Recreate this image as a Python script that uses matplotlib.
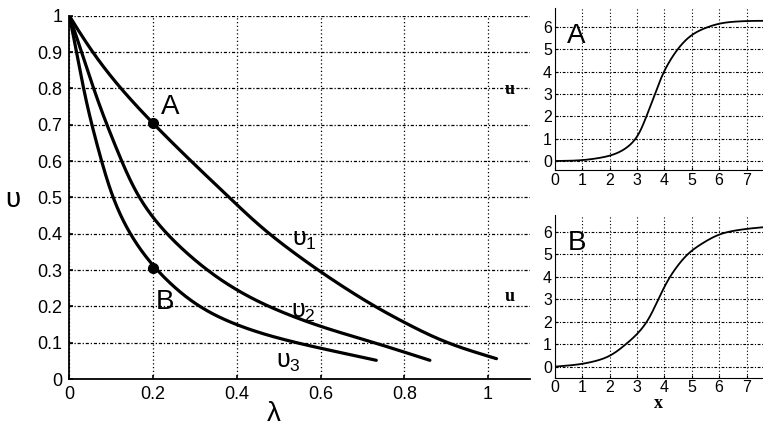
import matplotlib
matplotlib.use("Agg")
import matplotlib.pyplot as plt
import numpy as np

plt.rcParams['font.family'] = ['Liberation Sans', 'DejaVu Sans']
plt.rcParams['mathtext.fontset'] = 'custom'
plt.rcParams['mathtext.rm'] = 'Liberation Sans'

# ---- main panel data (lambda, upsilon) ----
lam1 = [0.0, 0.053, 0.121, 0.198, 0.29, 0.382, 0.463, 0.592, 0.726, 0.893, 1.02]
ups1 = [1.0, 0.9, 0.8, 0.705, 0.6, 0.5, 0.41, 0.3, 0.2, 0.1, 0.056]
lam2 = [0.0, 0.030, 0.057, 0.089, 0.125, 0.161, 0.228, 0.325, 0.39, 0.47, 0.6, 0.73, 0.861]
ups2 = [1.0, 0.9, 0.8, 0.7, 0.6, 0.5, 0.4, 0.3, 0.249, 0.2, 0.143, 0.1, 0.0515]
lam3 = [0.0, 0.018, 0.033, 0.053, 0.077, 0.101, 0.141, 0.2, 0.3, 0.384, 0.455, 0.55, 0.733]
ups3 = [1.0, 0.9, 0.8, 0.7, 0.6, 0.5, 0.4, 0.305, 0.2, 0.154, 0.125, 0.097, 0.0515]
pointA = (0.2, 0.705)
pointB = (0.2, 0.305)
main_xticks = [0, 0.2, 0.4, 0.6, 0.8, 1]
main_xlabels = ['0', '0.2', '0.4', '0.6', '0.8', '1']
main_yticks = [0, 0.1, 0.2, 0.3, 0.4, 0.5, 0.6, 0.7, 0.8, 0.9, 1]
main_ylabels = ['0', '0.1', '0.2', '0.3', '0.4', '0.5', '0.6', '0.7', '0.8', '0.9', '1']

# ---- inset data (x, u) ----
xA = [0, 1, 2, 2.5, 3, 3.35, 3.66, 3.96, 4.45, 5, 6, 7, 7.6]
uA = [0, 0.02, 0.2, 0.43, 0.95, 2.0, 3.0, 4.0, 5.0, 5.73, 6.2, 6.28, 6.28]
xB = [0, 1, 2, 3, 3.4, 3.78, 4.18, 4.8, 5, 6, 7, 7.6]
uB = [0, 0.1, 0.4, 1.4, 2.0, 3.0, 4.0, 5.0, 5.2, 5.94, 6.14, 6.2]
inset_ticks_x = [0, 1, 2, 3, 4, 5, 6, 7]
inset_ticks_y = [0, 1, 2, 3, 4, 5, 6]


def smooth_path(xs, ys, sx, sy, half, passes=3):
    """Resample polyline through the read points uniformly (in screen-like units)
    and round its corners with a moving average whose window shrinks at the ends."""
    X = np.asarray(xs, float) * sx
    Y = np.asarray(ys, float) * sy
    seg = np.hypot(np.diff(X), np.diff(Y))
    s = np.concatenate([[0], np.cumsum(seg)])
    n = int(s[-1]) * 2 + 2
    ss = np.linspace(0, s[-1], n)
    px = np.interp(ss, s, X); py = np.interp(ss, s, Y)
    k = int(half * 2)
    for _ in range(passes):
        ox = np.empty(n); oy = np.empty(n)
        for i in range(n):
            w = min(k, i, n - 1 - i)
            ox[i] = px[i - w:i + w + 1].mean(); oy[i] = py[i - w:i + w + 1].mean()
        px, py = ox, oy
    return px / sx, py / sy


fig = plt.figure(figsize=(7.63, 4.26), dpi=100)
hgrid = (0, (2.5, 1.5, 1, 1.5))
vgrid = (0, (1, 2))

ax = fig.add_axes([0.0908, 0.1103, 0.6038, 0.8528])
for lx, ly in [(lam1, ups1), (lam2, ups2), (lam3, ups3)]:
    cx, cy = smooth_path(lx, ly, 419, 363, 22)
    ax.plot(cx, cy, color='black', lw=2.3, solid_capstyle='round')
ax.plot(*pointA, 'o', color='black', ms=7)
ax.plot(*pointB, 'o', color='black', ms=7)
ax.set_xlim(0, 1.1)
ax.set_ylim(0, 1)
ax.set_xticks(main_xticks)
ax.set_xticklabels(main_xlabels)
ax.set_yticks(main_yticks)
ax.set_yticklabels(main_ylabels)
ax.tick_params(direction='in', length=3, width=1.2, labelsize=13, pad=5)
ax.xaxis.grid(True, color='black', linestyle=vgrid, lw=0.9)
ax.yaxis.grid(True, color='black', linestyle=hgrid, lw=0.9)
for s in ['top', 'right']:
    ax.spines[s].set_visible(False)
for s in ['left', 'bottom']:
    ax.spines[s].set_linewidth(1.3)
ax.set_xlabel('λ', fontsize=20, va='center', ha='center')
ax.xaxis.set_label_coords(0.444, -0.095)
ax.set_ylabel('υ', fontsize=20, rotation=0, va='center', ha='center')
ax.yaxis.set_label_coords(-0.1216, 0.492)
ax.text(0.24, 0.749, 'A', fontsize=20, ha='center', va='center')
ax.text(0.228, 0.212, 'B', fontsize=20, ha='center', va='center')
ax.text(0.5625, 0.382, r'$\mathregular{υ_1}$', fontsize=18, ha='center', va='center')
ax.text(0.558, 0.185, r'$\mathregular{υ_2}$', fontsize=18, ha='center', va='center')
ax.text(0.523, 0.048, r'$\mathregular{υ_3}$', fontsize=18, ha='center', va='center')


def inset(rect, xs, ys, label, ylim, show_x):
    a = fig.add_axes(rect)
    cx, cy = smooth_path(xs, ys, 27.4, 22.4, 9)
    a.plot(cx, cy, color='black', lw=1.3)
    a.set_xlim(0, 7.6)
    a.set_ylim(*ylim)
    a.set_xticks(inset_ticks_x)
    a.set_yticks(inset_ticks_y)
    a.tick_params(direction='in', length=2, labelsize=11.5, pad=2)
    a.xaxis.grid(True, color='black', linestyle=vgrid, lw=0.8)
    a.yaxis.grid(True, color='black', linestyle=hgrid, lw=0.8)
    for s in ['top', 'right']:
        a.spines[s].set_visible(False)
    a.text(0.8, ylim[1] - 1.25, label, fontsize=20, ha='center', va='center')
    a.set_ylabel('u', fontsize=13, rotation=0, family='Liberation Serif', fontweight='bold', labelpad=24, va='center')
    if show_x:
        a.set_xlabel('x', fontsize=13, family='Liberation Serif', fontweight='bold', labelpad=0)
    return a

inset([0.727, 0.601, 0.273, 0.380], xA, uA, 'A', (-0.4, 6.85), False)
inset([0.727, 0.1134, 0.273, 0.3816], xB, uB, 'B', (-0.49, 6.74), True)

fig.savefig('out.png', dpi=100)
